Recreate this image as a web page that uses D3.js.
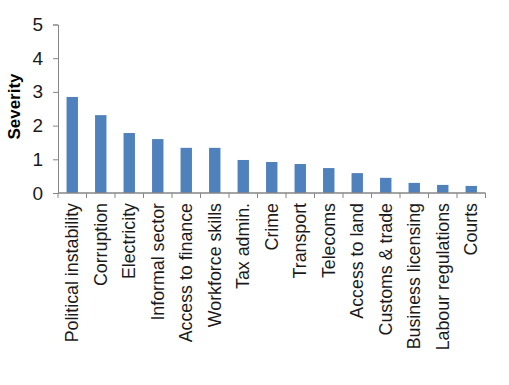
<!DOCTYPE html>
<html><head><meta charset="utf-8">
<script src="https://cdn.jsdelivr.net/npm/d3@7"></script>
<style>body{margin:0;background:#fff;} svg{display:block;}</style>
</head><body>
<script>
const categories = ["Political instability","Corruption","Electricity","Informal sector","Access to finance","Workforce skills","Tax admin.","Crime","Transport","Telecoms","Access to land","Customs & trade","Business licensing","Labour regulations","Courts"];
const severity = [2.85,2.31,1.78,1.60,1.34,1.34,0.98,0.92,0.86,0.74,0.59,0.45,0.30,0.24,0.21];
const yTicks = [0,1,2,3,4,5];

const W=509,H=385;
const svg=d3.select("body").append("svg").attr("width",W).attr("height",H);
const x=d3.scaleBand().domain(categories).range([58,485.5]).paddingInner(0.6).paddingOuter(0.3);
const y=d3.scaleLinear().domain([0,5]).range([193,24.5]);
const font="Liberation Sans, Arial, sans-serif";
const axisCol="#868686";

svg.selectAll("rect.bar").data(categories).enter().append("rect")
  .attr("x",d=>x(d)).attr("width",x.bandwidth())
  .attr("y",(d,i)=>y(severity[i])).attr("height",(d,i)=>y(0)-y(severity[i]))
  .attr("fill","#4F81BD");

// y axis
const ya=svg.append("g").attr("transform","translate(58,0)")
  .call(d3.axisLeft(y).tickValues(yTicks).tickSize(5).tickPadding(10).tickFormat(d3.format("d")));
ya.select(".domain").attr("stroke",axisCol).attr("stroke-width",1);
ya.selectAll(".tick line").attr("stroke",axisCol);
ya.selectAll("text").attr("font-family",font).attr("font-size",19).attr("fill","#1a1a1a");

// x axis
const xa=svg.append("g").attr("transform","translate(0,193)");
xa.append("line").attr("x1",58).attr("x2",485.5).attr("y1",0).attr("y2",0).attr("stroke",axisCol).attr("stroke-width",1.3);
const boundaries=d3.range(categories.length+1).map(i=>58+i*(485.5-58)/categories.length);
xa.selectAll("line.t").data(boundaries).enter().append("line")
  .attr("x1",d=>d).attr("x2",d=>d).attr("y1",0).attr("y2",5).attr("stroke",axisCol).attr("stroke-width",1);
xa.selectAll("text").data(categories).enter().append("text")
  .attr("transform",d=>`translate(${x(d)+x.bandwidth()/2+6},10) rotate(-90)`)
  .attr("text-anchor","end").attr("font-family",font).attr("font-size",17.8).attr("fill","#1a1a1a")
  .text(d=>d);

svg.append("text").attr("transform","translate(20,106.5) rotate(-90)")
  .attr("text-anchor","middle").attr("font-family",font).attr("font-weight","bold").attr("font-size",17)
  .attr("fill","#000").text("Severity");
</script>
</body></html>
